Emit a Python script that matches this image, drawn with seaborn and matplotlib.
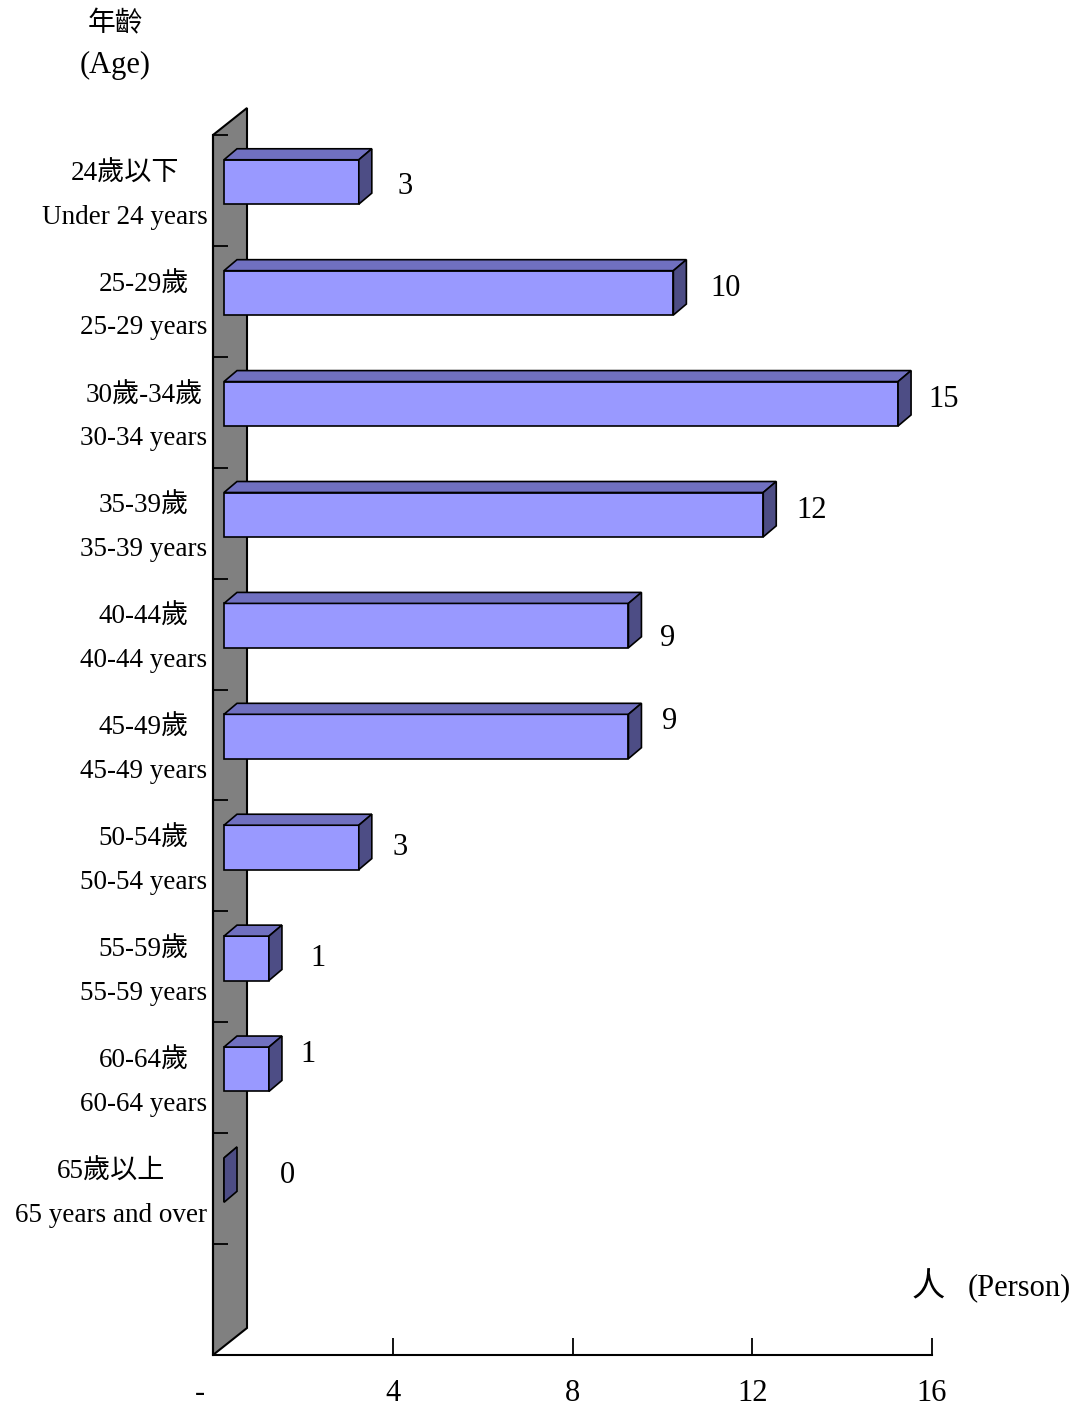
import numpy as np
import matplotlib
matplotlib.use("Agg")
import matplotlib.pyplot as plt
import seaborn as sns
from matplotlib.patches import Polygon
from matplotlib.transforms import ScaledTranslation

# data
ages_zh = ["24歲以下", "25-29歲", "30歲-34歲", "35-39歲", "40-44歲",
           "45-49歲", "50-54歲", "55-59歲", "60-64歲", "65歲以上"]
ages_en = ["Under 24 years", "25-29 years", "30-34 years", "35-39 years", "40-44 years",
           "45-49 years", "50-54 years", "55-59 years", "60-64 years", "65 years and over"]
persons = [3, 10, 15, 12, 9, 9, 3, 1, 1, 0]
x_ticks = [0, 4, 8, 12, 16]
x_ticklabels = ["-", "4", "8", "12", "16"]

# where the value labels sit, in pixels from the bar end (right, down)
label_dx = [39, 37, 30, 33, 32, 34, 34, 41, 31, 56]
label_dy = [5, -4, -4, -4, 13, -15, 0, 0, -15, -5]

FRONT = "#9999FF"
TOP = "#7070C0"
SIDE = "#4D4D85"
WALL = "#808080"

sns.set_theme(style="white")
plt.rcParams["font.family"] = ["Liberation Serif", "Noto Sans CJK TC"]
plt.rcParams["text.color"] = "black"

W, H, DPI = 1089, 1410, 100
fig = plt.figure(figsize=(W / DPI, H / DPI), dpi=DPI)
ax = fig.add_axes([213 / W, 55 / H, 719 / W, 1220 / H])

labels = [f"{zh}\n{en}" for zh, en in zip(ages_zh, ages_en)]
sns.barplot(x=persons, y=labels, orient="h", color=FRONT, width=0.4,
            edgecolor="black", linewidth=1.2, saturation=1, ax=ax, zorder=3)

ax.set_xlim(0, 16)
ax.set_ylim(len(labels) + 0.5, -0.5)


def px_to_data(dx, dy):
    """pixel vector (right, up) -> data vector"""
    p0 = ax.transData.transform((0, 0))
    p1 = ax.transData.inverted().transform(p0 + np.array([dx, dy]))
    return p1[0], p1[1]


# wall on the left
dxf, dyf = 34 / 719, 27 / 1220
wall = Polygon([(0, 0), (dxf, dyf), (dxf, 1 + dyf), (0, 1)], closed=True,
               transform=ax.transAxes, facecolor=WALL, edgecolor="black",
               linewidth=1.5, clip_on=False, zorder=0.5)
ax.add_patch(wall)

# bars sit a bit back in depth, then get top and side faces
sx, sy = px_to_data(11, 8.5)
ddx, ddy = px_to_data(13, 11)
for i, p in enumerate(ax.patches[:len(persons)]):
    p.set_x(p.get_x() + sx)
    p.set_y(p.get_y() + sy)
    x0, w = p.get_x(), p.get_width()
    yt, yb = p.get_y(), p.get_y() + p.get_height()
    top = Polygon([(x0, yt), (x0 + w, yt), (x0 + w + ddx, yt + ddy), (x0 + ddx, yt + ddy)],
                  closed=True, facecolor=TOP, edgecolor="black", linewidth=1.2, zorder=3)
    side = Polygon([(x0 + w, yt), (x0 + w + ddx, yt + ddy), (x0 + w + ddx, yb + ddy), (x0 + w, yb)],
                   closed=True, facecolor=SIDE, edgecolor="black", linewidth=1.2, zorder=3)
    ax.add_patch(top)
    ax.add_patch(side)
    ax.annotate(str(persons[i]), xy=(x0 + w, (yt + yb) / 2), xytext=(label_dx[i], -label_dy[i]),
                textcoords="offset pixels", ha="left", va="center", fontsize=22, color="black")

# axes styling
for s in ["top", "right"]:
    ax.spines[s].set_visible(False)
for s in ["left", "bottom"]:
    ax.spines[s].set_color("black")
    ax.spines[s].set_linewidth(1.5)

ax.set_xticks(x_ticks, x_ticklabels)
ax.tick_params(axis="x", bottom=True, direction="in", length=12, width=1.3, color="black",
               pad=17, labelsize=22, labelcolor="black")
ax.set_yticks(range(len(labels)), labels)
ax.set_yticks(np.arange(-0.5, len(labels), 1), minor=True)
ax.tick_params(axis="y", which="major", left=True, length=0, pad=4, labelsize=19.5, labelcolor="black")
ax.tick_params(axis="y", which="minor", left=True, direction="in", length=11, width=1.3, color="black")
for t in ax.get_yticklabels():
    t.set_multialignment("center")
    t.set_linespacing(1.95)
    t.set_transform(t.get_transform() + ScaledTranslation(0, 7 / DPI, fig.dpi_scale_trans))
ax.set_xlabel("")
ax.set_ylabel("")

first = ax.get_xticklabels()[0]
first.set_transform(first.get_transform() + ScaledTranslation(-13 / DPI, 0, fig.dpi_scale_trans))

# axis titles
fig.text(115 / W, 1 - 24 / H, "年齡", ha="center", va="center", fontsize=20)
fig.text(115 / W, 1 - 65 / H, "(Age)", ha="center", va="center", fontsize=22)
fig.text(928 / W, 1 - 1288 / H, "人", ha="center", va="center", fontsize=24)
fig.text(968 / W, 1 - 1288 / H, "(Person)", ha="left", va="center", fontsize=22)

fig.savefig("out.png", dpi=DPI, facecolor="white")
